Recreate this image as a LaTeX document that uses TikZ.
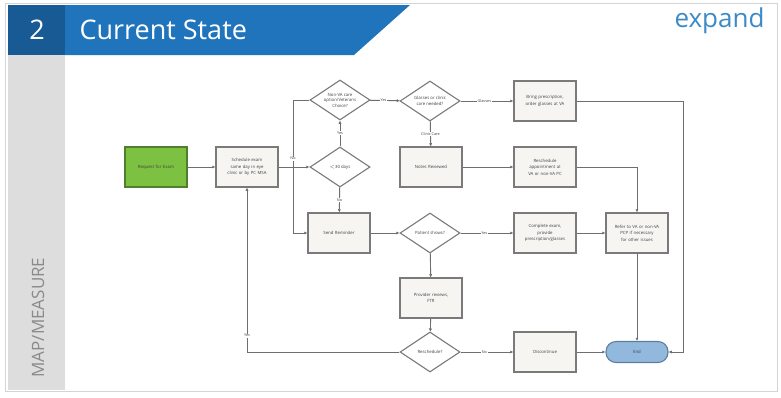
\documentclass[tikz,border=0pt]{standalone}
\usepackage{fontspec}
\setmainfont{Open Sans}
\usetikzlibrary{shapes.geometric,arrows.meta}
\definecolor{darkblue}{HTML}{175A94}
\definecolor{bandblue}{HTML}{1F74BB}
\definecolor{stripgray}{HTML}{DDDDDD}
\definecolor{framegray}{HTML}{D4D4D4}
\definecolor{boxc}{HTML}{7A7A7A}
\definecolor{boxfill}{HTML}{F6F5F2}
\definecolor{linec}{HTML}{6E6E6E}
\definecolor{txt}{HTML}{404040}
\definecolor{greenfill}{HTML}{7DC142}
\definecolor{greenedge}{HTML}{4F7F2A}
\definecolor{endfill}{HTML}{92B8DE}
\definecolor{endedge}{HTML}{5F7E9E}
\definecolor{expandblue}{HTML}{3C8AC6}
\definecolor{labgray}{HTML}{8A8A8A}
\newcommand{\myboxfont}{\fontsize{4.3}{6.5}\selectfont\hyphenpenalty=10000 \exhyphenpenalty=10000 }
\tikzset{
  stepbox/.style={draw=boxc, line width=1.1pt, fill=boxfill, minimum width=62pt, minimum height=40pt,
    inner sep=1pt, text width=46pt, align=center, font=\myboxfont, text=txt},
  decision/.style={diamond, draw=boxc, line width=1.1pt, fill=white, minimum width=60pt, minimum height=40pt,
    inner sep=0pt, aspect=1.5, align=center, font=\fontsize{4.3}{5.5}\selectfont, text=txt},
  conn/.style={draw=linec, line width=0.9pt, -{Latex[length=3.2pt,width=3.2pt]}},
  lab/.style={fill=white, inner sep=0.6pt, font=\fontsize{3.8}{4}\selectfont, text=txt}
}
\begin{document}
\begin{tikzpicture}[x=1pt,y=-1pt]
\useasboundingbox (0,0) rectangle (781,397);
\fill[white] (0,0) rectangle (781,397);
% outer card
\draw[framegray, line width=1pt, fill=white] (5,3) rectangle (777,391);
% header
\fill[darkblue] (8,5) rectangle (65,55);
\fill[bandblue] (65,5) -- (410,5) -- (354,55) -- (65,55) -- cycle;
\node[text=white, font=\fontsize{27}{27}\selectfont] (num) at (37,30) {2};
\node[text=white, font=\fontsize{27}{27}\selectfont, anchor=west] (title) at (76,30) {Current State};
\node[text=expandblue, font=\fontsize{26}{26}\selectfont, anchor=east] (expand) at (768,21) {expand};
% left strip
\fill[stripgray] (8,55) rectangle (65,390);
\node[rotate=90, anchor=west, text=labgray, font=\fontsize{17}{17}\selectfont] (mm) at (38,381) {MAP/MEASURE};

% nodes
\node[stepbox, fill=greenfill, draw=greenedge] (req) at (156,167) {Request for Exam};
\node[stepbox] (sched) at (247,167) {Schedule exam same day in eye clinic or by PC MSA};
\node[decision] (d1) at (340,100) {Non-VA care\\option/Veterans\\Choice?};
\node[decision] (d2) at (430,101) {Glasses or clinic\\care needed?};
\node[stepbox] (bring) at (545,101) {Bring prescription, order glasses at VA};
\node[decision] (lt30) at (340,167) {$<$30 days};
\node[stepbox] (notes) at (431,167) {Notes Reviewed};
\node[stepbox] (resch) at (545,167) {Reschedule appointment at VA or non-VA PC};
\node[stepbox] (send) at (339,233) {Send Reminder};
\node[decision] (shows) at (430,233) {Patient shows?};
\node[stepbox] (complete) at (545,233) {Complete exam,\\provide\\prescription/glasses};
\node[stepbox, text width=50pt] (refer) at (637,233) {Refer to VA or non-VA PCP if necessary for other issues};
\node[stepbox] (prov) at (431,298) {Provider reviews,\\FTR};
\node[decision] (reschq) at (430,352) {Reschedule?};
\node[stepbox] (disc) at (545,352) {Discontinue};
\node[draw=endedge, line width=1.1pt, fill=endfill, rounded corners=10pt, minimum width=62pt, minimum height=21pt,
  font=\fontsize{4.3}{5}\selectfont, text=txt] (end) at (637,352) {End};

\coordinate (jx) at (293,100);
\coordinate (rx) at (683,101);
\coordinate (yx) at (247,352);

% connectors
\draw[conn] (req) -- (sched);
\draw[conn] (sched) -- (lt30);
\draw[conn] (d1.west) -- (jx) |- (send.west) node[lab, pos=0.22] {No};
\draw[conn] (lt30) -- (d1) node[lab, pos=0.52] {Yes};
\draw[conn] (lt30) -- (send) node[lab, pos=0.5] {No};
\draw[conn] (d1) -- (d2) node[lab, pos=0.45] {Yes};
\draw[conn] (d2) -- (bring) node[lab, pos=0.45] {Glasses};
\draw[conn] (d2) -- (notes) node[lab, pos=0.5] {Clinic Care};
\draw[conn] (notes) -- (resch);
\draw[conn] (resch.east) -| (refer.north);
\draw[conn] (send) -- (shows);
\draw[conn] (shows) -- (complete) node[lab, pos=0.45] {Yes};
\draw[conn] (complete) -- (refer);
\draw[conn] (refer) -- (end);
\draw[conn] (bring.east) -- (rx) |- (end.east);
\draw[conn] (shows) -- (prov);
\draw[conn] (prov) -- (reschq);
\draw[conn] (reschq) -- (disc) node[lab, pos=0.45] {No};
\draw[conn] (disc) -- (end);
\draw[conn] (reschq.west) -- (yx) -- (sched.south) node[lab, pos=0.1] {Yes};
\end{tikzpicture}
\end{document}
